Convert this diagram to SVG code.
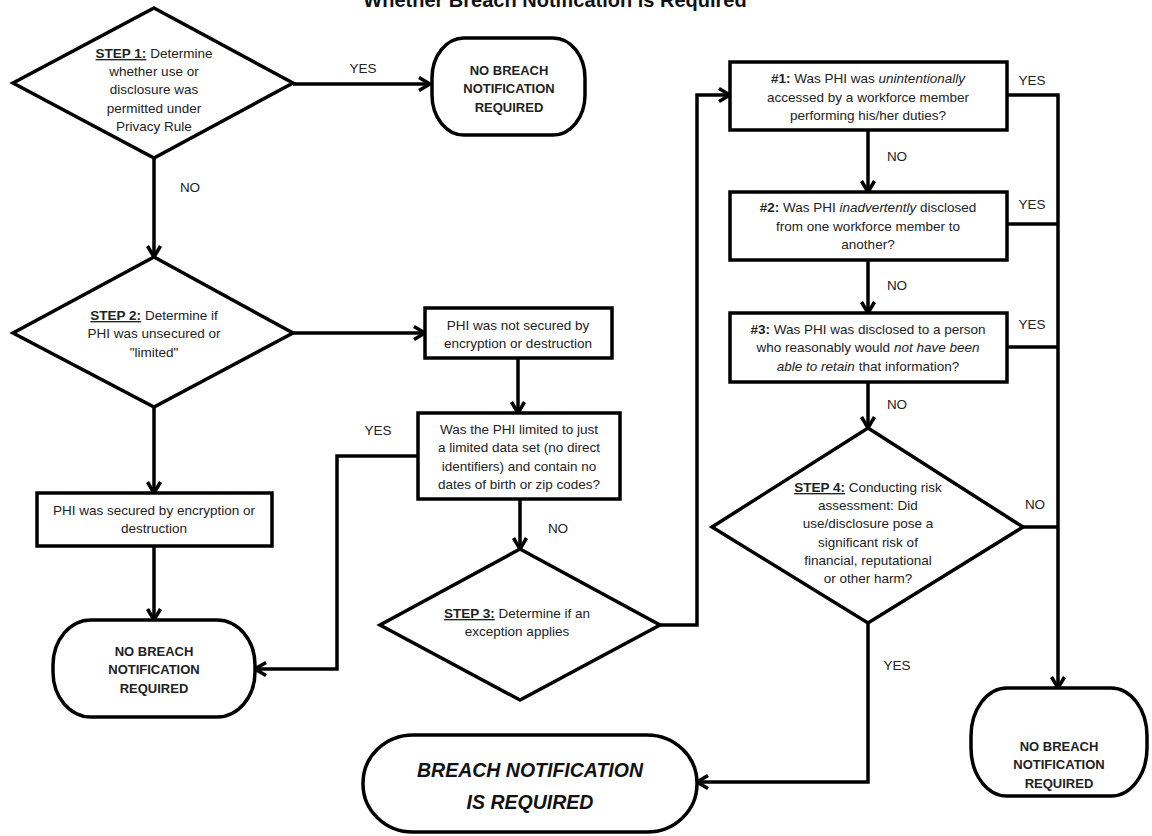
<svg xmlns="http://www.w3.org/2000/svg" width="1152" height="836" viewBox="0 0 1152 836">
<defs>
<marker id="arr" viewBox="0 0 14 16" refX="12.5" refY="8" markerWidth="14" markerHeight="16" markerUnits="userSpaceOnUse" orient="auto">
<path d="M1.5,1.5 L12.5,8 L1.5,14.5" fill="none" stroke="#000" stroke-width="3.5" stroke-linejoin="miter"/>
</marker>
<style>
.shape{fill:#fff;stroke:#000;stroke-width:3.5;stroke-linejoin:miter}
.conn{fill:none;stroke:#000;stroke-width:3.5}
.t{font-family:"Liberation Sans",Arial,sans-serif;font-size:13.5px;fill:#222;text-anchor:middle}
.tb{font-family:"Liberation Sans",Arial,sans-serif;font-size:13px;font-weight:bold;fill:#222;text-anchor:middle}
.lbl{font-family:"Liberation Sans",Arial,sans-serif;font-size:13.5px;fill:#222;text-anchor:middle}
.step{font-weight:bold;text-decoration:underline}
.b{font-weight:bold}
.i{font-style:italic}
.big{font-family:"Liberation Sans",Arial,sans-serif;font-size:19.5px;font-weight:bold;font-style:italic;fill:#111;text-anchor:middle}
.title{font-family:"Liberation Sans",Arial,sans-serif;font-size:20px;font-weight:bold;fill:#111;text-anchor:middle}
</style>
</defs>
<rect width="1152" height="836" fill="#fff"/>
<text class="title" x="555" y="7">Whether Breach Notification is Required</text>

<g id="connectors">
<path class="conn" d="M293,84 H430" marker-end="url(#arr)"/>
<path class="conn" d="M154,158 V257" marker-end="url(#arr)"/>
<path class="conn" d="M293,333 H425" marker-end="url(#arr)"/>
<path class="conn" d="M154,407 V493" marker-end="url(#arr)"/>
<path class="conn" d="M154,546 V620" marker-end="url(#arr)"/>
<path class="conn" d="M518,358 V413" marker-end="url(#arr)"/>
<path class="conn" d="M418,456 H337 V669 H255" marker-end="url(#arr)"/>
<path class="conn" d="M520,499 V549" marker-end="url(#arr)"/>
<path class="conn" d="M660,625 H697 V95 H730" marker-end="url(#arr)"/>
<path class="conn" d="M868,130 V192" marker-end="url(#arr)"/>
<path class="conn" d="M868,260 V313" marker-end="url(#arr)"/>
<path class="conn" d="M868,382 V428" marker-end="url(#arr)"/>
<path class="conn" d="M1007,95 H1058 V688" marker-end="url(#arr)"/>
<path class="conn" d="M1007,224 H1058"/>
<path class="conn" d="M1007,347 H1058"/>
<path class="conn" d="M1023,527 H1058"/>
<path class="conn" d="M868,623 V782 H697" marker-end="url(#arr)"/>
<text class="lbl" x="363" y="73">YES</text>
<text class="lbl" x="190" y="192">NO</text>
<text class="lbl" x="378" y="435">YES</text>
<text class="lbl" x="558" y="533">NO</text>
<text class="lbl" x="897" y="161">NO</text>
<text class="lbl" x="897" y="290">NO</text>
<text class="lbl" x="897" y="409">NO</text>
<text class="lbl" x="1032" y="85">YES</text>
<text class="lbl" x="1032" y="209">YES</text>
<text class="lbl" x="1032" y="329">YES</text>
<text class="lbl" x="1035" y="509">NO</text>
<text class="lbl" x="897" y="670">YES</text>
</g>

<g id="step1">
<polygon class="shape" points="154,8 293,83 154,158 13,83"/>
<text class="t" x="154" y="58"><tspan class="step">STEP 1:</tspan> Determine</text>
<text class="t" x="154" y="76">whether use or</text>
<text class="t" x="154" y="94">disclosure was</text>
<text class="t" x="154" y="113">permitted under</text>
<text class="t" x="154" y="131">Privacy Rule</text>
</g>

<g id="term1">
<rect class="shape" x="432" y="38" width="153" height="97" rx="32" ry="40"/>
<text class="tb" x="509" y="75">NO BREACH</text>
<text class="tb" x="509" y="93">NOTIFICATION</text>
<text class="tb" x="509" y="112">REQUIRED</text>
</g>

<g id="step2">
<polygon class="shape" points="154,257 293,333 154,407 13,333"/>
<text class="t" x="154" y="320"><tspan class="step">STEP 2:</tspan> Determine if</text>
<text class="t" x="154" y="338">PHI was unsecured or</text>
<text class="t" x="154" y="357">"limited"</text>
</g>

<g id="boxA">
<rect class="shape" x="425" y="308" width="187" height="50"/>
<text class="t" x="518" y="330">PHI was not secured by</text>
<text class="t" x="518" y="348">encryption or destruction</text>
</g>

<g id="boxB">
<rect class="shape" x="418" y="413" width="202" height="86"/>
<text class="t" x="519" y="434">Was the PHI limited to just</text>
<text class="t" x="519" y="452">a limited data set (no direct</text>
<text class="t" x="519" y="471">identifiers) and contain no</text>
<text class="t" x="519" y="489">dates of birth or zip codes?</text>
</g>

<g id="boxC">
<rect class="shape" x="37" y="493" width="235" height="53"/>
<text class="t" x="154" y="515">PHI was secured by encryption or</text>
<text class="t" x="154" y="533">destruction</text>
</g>

<g id="term2">
<rect class="shape" x="53" y="620" width="202" height="97" rx="38" ry="45"/>
<text class="tb" x="154" y="656">NO BREACH</text>
<text class="tb" x="154" y="674">NOTIFICATION</text>
<text class="tb" x="154" y="693">REQUIRED</text>
</g>

<g id="step3">
<polygon class="shape" points="520,549 660,625 520,700 380,625"/>
<text class="t" x="517" y="618"><tspan class="step">STEP 3:</tspan> Determine if an</text>
<text class="t" x="517" y="636">exception applies</text>
</g>

<g id="box1">
<rect class="shape" x="730" y="62" width="277" height="68"/>
<text class="t" x="868" y="83"><tspan class="b">#1:</tspan> Was PHI was <tspan class="i">unintentionally</tspan></text>
<text class="t" x="868" y="102">accessed by a workforce member</text>
<text class="t" x="868" y="120">performing his/her duties?</text>
</g>

<g id="box2">
<rect class="shape" x="730" y="192" width="277" height="68"/>
<text class="t" x="868" y="212"><tspan class="b">#2:</tspan> Was PHI <tspan class="i">inadvertently</tspan> disclosed</text>
<text class="t" x="868" y="231">from one workforce member to</text>
<text class="t" x="868" y="249">another?</text>
</g>

<g id="box3">
<rect class="shape" x="730" y="313" width="277" height="69"/>
<text class="t" x="868" y="334"><tspan class="b">#3:</tspan> Was PHI was disclosed to a person</text>
<text class="t" x="868" y="352">who reasonably would <tspan class="i">not have been</tspan></text>
<text class="t" x="868" y="371"><tspan class="i">able to retain</tspan> that information?</text>
</g>

<g id="step4">
<polygon class="shape" points="868,428 1023,527 868,623 712,527"/>
<text class="t" x="868" y="492"><tspan class="step">STEP 4:</tspan> Conducting risk</text>
<text class="t" x="868" y="510">assessment:  Did</text>
<text class="t" x="868" y="528">use/disclosure pose a</text>
<text class="t" x="868" y="547">significant risk of</text>
<text class="t" x="868" y="565">financial, reputational</text>
<text class="t" x="868" y="583">or other harm?</text>
</g>

<g id="term3">
<rect class="shape" x="971" y="688" width="176" height="108" rx="36" ry="48"/>
<text class="tb" x="1059" y="751">NO BREACH</text>
<text class="tb" x="1059" y="769">NOTIFICATION</text>
<text class="tb" x="1059" y="788">REQUIRED</text>
</g>

<g id="breach">
<rect class="shape" x="363" y="735" width="334" height="97" rx="50" ry="48"/>
<text class="big" x="530" y="777">BREACH NOTIFICATION</text>
<text class="big" x="530" y="809">IS REQUIRED</text>
</g>
</svg>
